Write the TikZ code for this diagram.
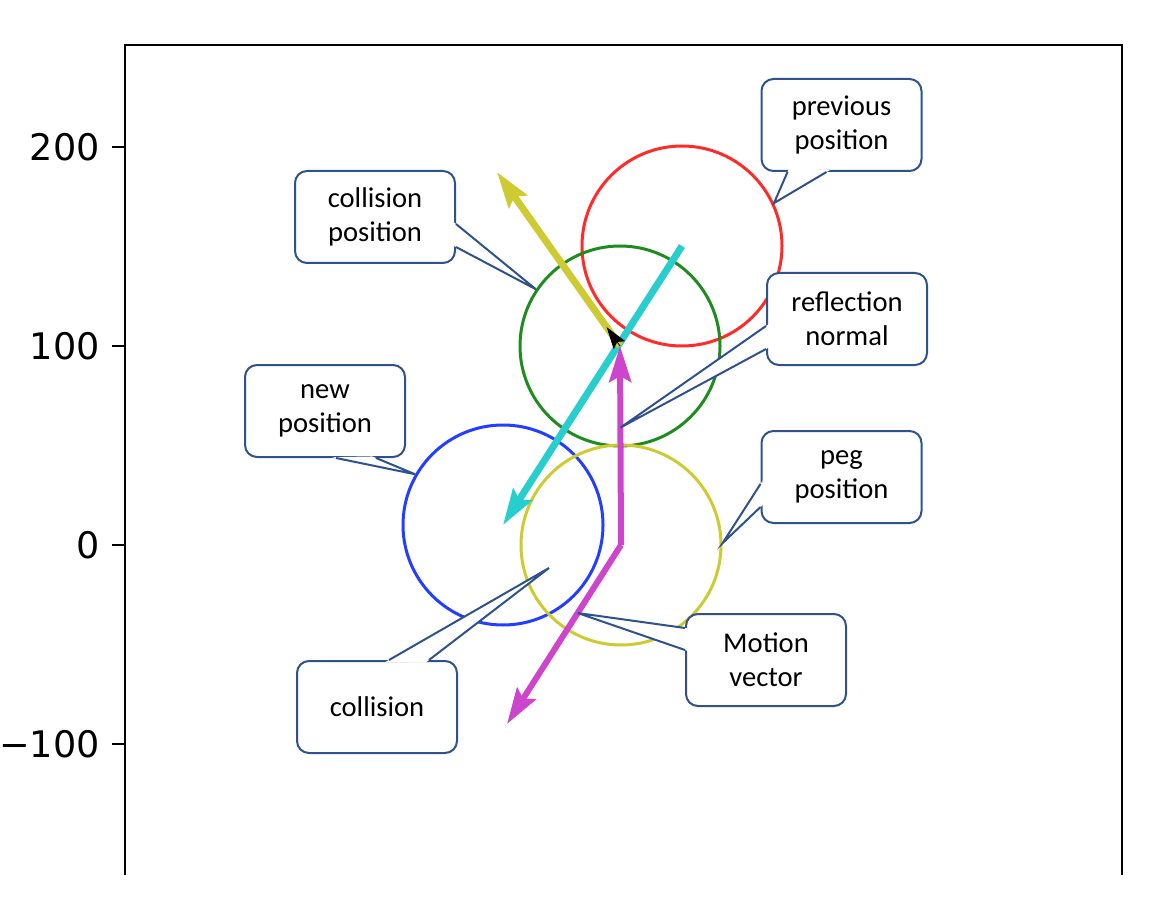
\documentclass[tikz,border=0pt]{standalone}
\usepackage{fontspec}
\usetikzlibrary{calc}
\usetikzlibrary{arrows.meta}
\newfontfamily\calloutfont{Carlito}
\newfontfamily\tickfont{DejaVu Sans}
\definecolor{call blue}{HTML}{2F528F}
\definecolor{prev red}{RGB}{255,42,42}
\definecolor{coll green}{RGB}{30,140,30}
\definecolor{new blue}{RGB}{35,62,255}
\definecolor{peg yellow}{RGB}{205,202,50}
\definecolor{vec cyan}{RGB}{40,205,205}
\definecolor{vec magenta}{RGB}{205,68,205}

\tikzset{
  calloutbox/.style = {draw = call blue, line width = 1pt, fill = white,
    rounded corners = 6pt, minimum width = 80pt, minimum height = 46pt,
    inner sep = 0pt, align = center,
    font = \calloutfont\fontsize{14.3}{16.8}\selectfont},
  wedge/.style = {draw = call blue, line width = 1pt, line join = miter},
  ring/.style = {circle, line width = 1.5pt, minimum size = 100pt, inner sep = 0pt},
  vec/.style = {line width = 3.5pt,
    -{Stealth[length=18pt, width=11pt, inset=3pt]}},
}

% wedge of a callout: base points #1, #2, tip #3
\newcommand{\calloutwedge}[3]{%
  \fill[white] ($(#1)!-2pt!(#3)$) -- (#3) -- ($(#2)!-2pt!(#3)$) -- cycle;
  \draw[wedge] (#1) -- (#3) -- (#2);
}

\begin{document}
\begin{tikzpicture}[x = 0.5pt, y = -0.5pt]
  \useasboundingbox (0, 0) rectangle (1160, 898);

  % axes
  \draw[line width = 1.2pt] (125, 875) -- (125, 45) -- (1122, 45) -- (1122, 875);
  \foreach \lab/\ypos in {200/147, 100/346, 0/545, −100/744} {
    \draw[line width = 1pt] (112, \ypos) -- (125, \ypos);
    \node[anchor = east, inner sep = 0pt,
      font = \tickfont\fontsize{18.3}{22}\selectfont] (tick\ypos) at (100, \ypos) {\lab};
  }

  % circles
  \node[ring, draw = prev red] (prev) at (682, 246) {};
  \node[ring, draw = coll green] (coll) at (620, 346) {};
  \node[ring, draw = new blue] (new) at (503, 525) {};
  \node[ring, draw = peg yellow] (peg) at (621, 545) {};

  % vectors
  \coordinate (mlow) at (507, 724);
  \coordinate (yhead) at (497, 172);
  \draw[vec, vec cyan] (prev.center) -- (new.center);
  \draw[vec, peg yellow] (coll.center) -- (yhead);
  \draw[line width = 0.4pt, -{Stealth[length=11pt, width=7pt, inset=2pt]}] %
    (coll.center) -- ($(coll.center)!11.5pt!(yhead)$);
  \draw[vec, vec magenta, line width = 3pt] (peg.center) -- (coll.center);
  \draw[vec, vec magenta, line width = 3pt] (peg.center) -- (mlow);

  \coordinate (refltip) at ($(peg.center)!0.59!(coll.center)$);
  \coordinate (motiontip) at ($(peg.center)!0.38!(mlow)$);
  \coordinate (colltip) at (549, 568);

  % callouts
  \node[calloutbox] (prevpos) at (841.5, 125) {previous\\position};
  \calloutwedge{$(prevpos.south west)+(27, 0)$}{$(prevpos.south west)+(66, 0)$}{prev.25}

  \node[calloutbox] (collpos) at (375, 217) {collision\\position};
  \calloutwedge{$(collpos.north east)+(0, 54)$}{$(collpos.north east)+(0, 77)$}{coll.146}

  \node[calloutbox] (reflnorm) at (847, 319) {reflection\\normal};
  \calloutwedge{$(reflnorm.north west)+(0, 54)$}{$(reflnorm.north west)+(0, 77)$}{refltip}

  \node[calloutbox] (newpos) at (325, 411) {new\\position};
  \calloutwedge{$(newpos.south west)+(92, 0)$}{$(newpos.south west)+(132, 0)$}{new.150}

  \node[calloutbox] (pegpos) at (841.5, 477) {peg\\position};
  \calloutwedge{$(pegpos.north west)+(0, 54)$}{$(pegpos.north west)+(0, 77)$}{peg.1}

  \node[calloutbox] (motionvec) at (766, 660) {Motion\\vector};
  \calloutwedge{$(motionvec.north west)+(0, 15)$}{$(motionvec.north west)+(0, 37)$}{motiontip}

  \node[calloutbox] (collision) at (377, 707) {collision};
  \calloutwedge{$(collision.north west)+(93, 0)$}{$(collision.north west)+(133, 0)$}{colltip}
\end{tikzpicture}
\end{document}
